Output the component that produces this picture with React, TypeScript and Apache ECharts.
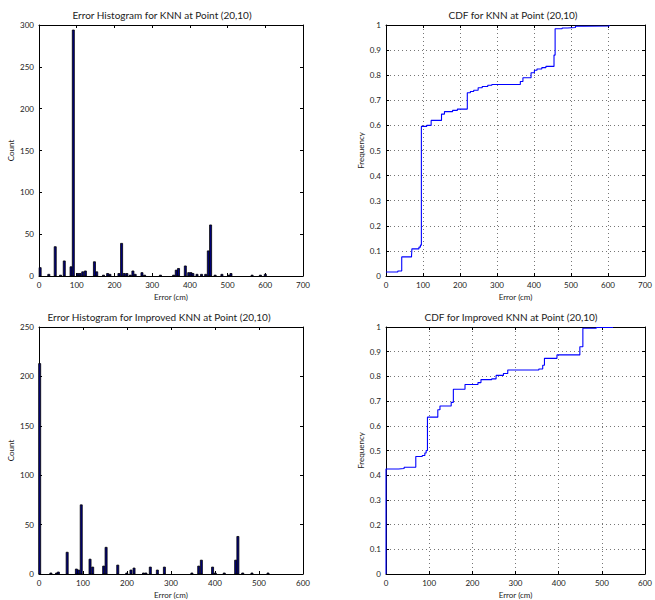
import React, { useEffect, useRef } from 'react';
import * as echarts from 'echarts';

// Histogram: KNN
const hist1Centers = [3, 26, 43, 57, 67, 85, 91, 103, 109, 116, 123, 147, 153, 171, 182, 188, 212, 219, 226, 233, 242, 249, 255, 273, 280, 322, 357, 364, 370, 388, 397, 403, 408, 419, 431, 442, 449, 455, 467, 485, 503, 509, 565, 587, 600];
const hist1Counts = [10, 2, 35, 1, 18, 11, 294, 3, 3, 5, 6, 17, 5, 1, 3, 2, 3, 39, 3, 3, 1, 6, 2, 4, 1, 1, 1, 7, 9, 12, 4, 4, 3, 2, 2, 2, 30, 61, 1, 2, 1, 3, 1, 1, 2];

// CDF: KNN
const cdf1X = [0, 32, 42.5, 69, 70, 89, 93, 95.6, 110, 122, 150, 158, 180, 193, 219.7, 228, 237, 249, 260, 275, 286, 363, 370, 392, 401, 408, 421, 432, 454, 457, 476, 490, 512, 534, 603];
const cdf1Y = [0.016, 0.02, 0.076, 0.08, 0.108, 0.115, 0.123, 0.596, 0.6, 0.62, 0.645, 0.655, 0.66, 0.665, 0.73, 0.735, 0.74, 0.75, 0.755, 0.76, 0.763, 0.775, 0.79, 0.81, 0.82, 0.825, 0.83, 0.835, 0.88, 0.985, 0.988, 0.99, 0.995, 0.996, 1.0];

// Histogram: Improved KNN
const hist2Centers = [1.5, 27, 40, 44, 64, 85, 90, 96, 116, 122, 147, 152.5, 179, 199.5, 209, 216, 237.5, 243, 253, 269, 285, 347.5, 363, 369, 394.5, 400.6, 421, 447, 452, 463, 484, 520.5];
const hist2Counts = [213, 1, 1, 2, 22, 5, 4, 70, 15, 7, 8, 27, 9, 1, 4, 6, 1, 1, 7, 4, 7, 1, 8, 14, 7, 1, 1, 14, 38, 1, 1, 1];

// CDF: Improved KNN
const cdf2X = [0, 0, 29, 42, 69, 84, 90, 93, 96, 120, 125, 151, 156, 183, 213, 220, 245, 255, 272, 282, 354, 363, 367, 396, 449, 456, 487, 526];
const cdf2Y = [0, 0.425, 0.427, 0.432, 0.476, 0.48, 0.49, 0.5, 0.635, 0.665, 0.68, 0.695, 0.748, 0.767, 0.775, 0.787, 0.79, 0.804, 0.812, 0.826, 0.83, 0.845, 0.873, 0.887, 0.92, 0.995, 0.998, 1.0];

const titles = [
  'Error Histogram for KNN at Point (20,10)',
  'CDF for KNN at Point (20,10)',
  'Error Histogram for Improved KNN at Point (20,10)',
  'CDF for Improved KNN at Point (20,10)',
];
const xAxisName = 'Error (cm)';

const FONT = 'Lato';
const TXT = '#222';

export default function App() {
  const ref = useRef<HTMLDivElement>(null);
  useEffect(() => {
    if (!ref.current) return;
    const chart = echarts.init(ref.current, null, { renderer: 'svg' });

    const grids = [
      { left: 39, top: 25, width: 264, height: 251 },
      { left: 386, top: 25, width: 264, height: 251 },
      { left: 39, top: 327, width: 264, height: 251 },
      { left: 386, top: 327, width: 263, height: 251 },
    ];
    const xCfg = [
      { max: 700 }, { max: 700 }, { max: 600 }, { max: 600 },
    ];
    const yCfg = [
      { max: 300, interval: 50, name: 'Count' },
      { max: 1, interval: 0.1, name: 'Frequency' },
      { max: 250, interval: 50, name: 'Count' },
      { max: 1, interval: 0.1, name: 'Frequency' },
    ];
    const isCdf = [false, true, false, true];

    const xAxis: any[] = [];
    const yAxis: any[] = [];
    grids.forEach((g, i) => {
      const split = {
        show: isCdf[i],
        lineStyle: { color: '#666', type: [1, 3], width: 0.9 },
      };
      xAxis.push({
        type: 'value', gridIndex: i, min: 0, max: xCfg[i].max, interval: 100,
        position: 'bottom',
        name: xAxisName, nameLocation: 'middle', nameGap: 17,
        nameTextStyle: { fontFamily: FONT, fontSize: 8, color: TXT },
        axisLine: { show: true, onZero: false, lineStyle: { color: '#000', width: 1 } },
        axisTick: { show: true, inside: true, length: 3, lineStyle: { color: '#000' } },
        axisLabel: { fontFamily: FONT, fontSize: 8, color: TXT, margin: 5 },
        splitLine: split,
      });
      xAxis.push({
        type: 'value', gridIndex: i, min: 0, max: xCfg[i].max, interval: 100,
        position: 'top',
        axisLine: { show: true, onZero: false, lineStyle: { color: '#000', width: 1 } },
        axisTick: { show: true, inside: true, length: 3, lineStyle: { color: '#000' } },
        axisLabel: { show: false },
        splitLine: { show: false },
      });
      yAxis.push({
        type: 'value', gridIndex: i, min: 0, max: yCfg[i].max, interval: yCfg[i].interval,
        position: 'left',
        name: yCfg[i].name, nameLocation: 'middle', nameGap: isCdf[i] ? 21 : 24,
        nameTextStyle: { fontFamily: FONT, fontSize: 8, color: TXT },
        axisLine: { show: true, onZero: false, lineStyle: { color: '#000', width: 1 } },
        axisTick: { show: true, inside: true, length: 3, lineStyle: { color: '#000' } },
        axisLabel: { fontFamily: FONT, fontSize: 8, color: TXT, margin: 5 },
        splitLine: split,
      });
      yAxis.push({
        type: 'value', gridIndex: i, min: 0, max: yCfg[i].max, interval: yCfg[i].interval,
        position: 'right',
        axisLine: { show: true, onZero: false, lineStyle: { color: '#000', width: 1 } },
        axisTick: { show: true, inside: true, length: 3, lineStyle: { color: '#000' } },
        axisLabel: { show: false },
        splitLine: { show: false },
      });
    });

    const barSeries = (centers: number[], counts: number[], w: number, gi: number) => ({
      type: 'custom',
      xAxisIndex: gi * 2,
      yAxisIndex: gi * 2,
      data: centers.map((c, k) => [c, counts[k]]),
      renderItem: (params: any, api: any) => {
        const x = api.value(0);
        const y = api.value(1);
        const p0 = api.coord([x - w / 2, y]);
        const p1 = api.coord([x + w / 2, 0]);
        return {
          type: 'rect',
          shape: { x: p0[0], y: p0[1], width: p1[0] - p0[0], height: p1[1] - p0[1] },
          style: { fill: '#00007f', stroke: '#000', lineWidth: 0.8 },
        };
      },
    });

    const lineSeries = (xs: number[], ys: number[], gi: number) => ({
      type: 'line',
      xAxisIndex: gi * 2,
      yAxisIndex: gi * 2,
      step: 'end',
      showSymbol: false,
      data: xs.map((x, k) => [x, ys[k]]),
      lineStyle: { color: '#0000ff', width: 1.1 },
      itemStyle: { color: '#0000ff' },
    });

    const titleCenters = [
      { x: 157, y: 5 }, { x: 508, y: 5 }, { x: 154, y: 307 }, { x: 506, y: 307 },
    ];

    chart.setOption({
      animation: false,
      backgroundColor: '#fff',
      title: titles.map((t, i) => ({
        text: t,
        left: titleCenters[i].x,
        top: titleCenters[i].y,
        textAlign: 'center',
        textStyle: { fontFamily: FONT, fontSize: 10, fontWeight: 'normal', color: TXT },
      })),
      grid: grids,
      xAxis,
      yAxis,
      series: [
        barSeries(hist1Centers, hist1Counts, 5.4, 0),
        lineSeries(cdf1X, cdf1Y, 1),
        barSeries(hist2Centers, hist2Counts, 4.6, 2),
        lineSeries(cdf2X, cdf2Y, 3),
      ],
    });
    return () => chart.dispose();
  }, []);
  return (
    <div
      ref={ref}
      style={{ position: 'fixed', left: 0, top: 0, width: 655, height: 600, background: '#fff' }}
    />
  );
}
